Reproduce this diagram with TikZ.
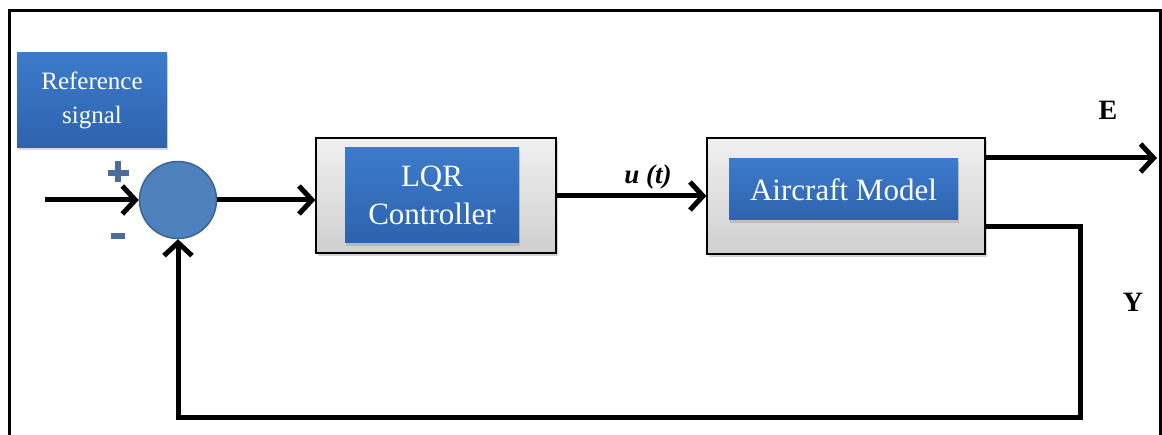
\documentclass[tikz,border=0pt]{standalone}
\usepackage{fontspec}
\setmainfont{Liberation Serif}
\usetikzlibrary{arrows.meta,shadows,calc}
\definecolor{blueA}{HTML}{3C7BCB}
\definecolor{blueB}{HTML}{2E63AE}
\definecolor{sumfill}{HTML}{4F81BD}
\definecolor{sumdraw}{HTML}{3A6494}
\definecolor{signc}{HTML}{4A6E99}
\definecolor{grayA}{HTML}{F0F0F0}
\definecolor{grayB}{HTML}{CFCFCF}
\tikzset{
  outerbox/.style={draw=black,line width=1.2pt,top color=grayA,bottom color=grayB,
    drop shadow={shadow xshift=2pt,shadow yshift=-3pt,opacity=0.35}},
  bluebox/.style={top color=blueA,bottom color=blueB,text=white,align=center,
    drop shadow={shadow xshift=1pt,shadow yshift=-3pt,opacity=0.3}},
  conn/.style={line width=5pt,line join=miter,-{Straight Barb[length=13pt,width=28pt,line width=5pt]}},
}
\begin{document}
\begin{tikzpicture}[x=1pt,y=-1pt]
\useasboundingbox (0,0) rectangle (1162,435);
% frame
\draw[line width=3pt] (9,440) -- (9,11) -- (1160,11) -- (1160,440);
% reference signal
\node[bluebox,minimum width=150pt,minimum height=95pt,font=\fontsize{25}{34}\selectfont] (ref) at (92,100) {Reference\\signal};
% sum junction
\node[circle,fill=sumfill,draw=sumdraw,line width=1.5pt,minimum size=77pt,inner sep=0pt] (sum) at (178,200) {};
\node[fill=signc,minimum width=21pt,minimum height=6pt,inner sep=0pt] (plush) at (118,173) {};
\node[fill=signc,minimum width=6pt,minimum height=21pt,inner sep=0pt] (plusv) at (118,172) {};
\node[fill=signc,minimum width=14pt,minimum height=6pt,inner sep=0pt] (minus) at (118,236) {};
% LQR
\node[outerbox,minimum width=240pt,minimum height=115pt] (lqro) at (436,195.5) {};
\node[bluebox,minimum width=174pt,minimum height=95pt,font=\fontsize{31}{38}\selectfont] (lqr) at (432,195.5) {LQR\\Controller};
% Aircraft
\node[outerbox,minimum width=278pt,minimum height=116pt] (airo) at (846,196) {};
\node[bluebox,minimum width=229pt,minimum height=61pt,font=\fontsize{31}{34}\selectfont] (air) at (843.5,189.5) {Aircraft Model};
% points
\coordinate (in) at (45,200);
\coordinate (eout) at (1157,158);
\coordinate (fb1) at (1080,227);
\coordinate (fb2) at (1080,418);
\coordinate (fb3) at (sum.south |- 0,418);
% connectors
\draw[conn] (in) -- (sum.west);
\draw[conn] (sum.east) -- (lqro.west |- sum.east);
\draw[conn] (lqro.east |- 0,196) -- (airo.west |- 0,196);
\draw[conn] (airo.east |- eout) -- (eout);
\draw[conn] (airo.east |- fb1) -- (fb1) -- (fb2) -- (fb3) -- (sum.south);
% labels
\node[font=\bfseries\itshape\fontsize{27}{27}\selectfont,inner sep=0pt] (ut) at (648,177) {u (t)};
\node[font=\bfseries\fontsize{28}{28}\selectfont,inner sep=0pt] (E) at (1108,110) {E};
\node[font=\bfseries\fontsize{28}{28}\selectfont,inner sep=0pt] (Y) at (1133,302) {Y};
\end{tikzpicture}
\end{document}
